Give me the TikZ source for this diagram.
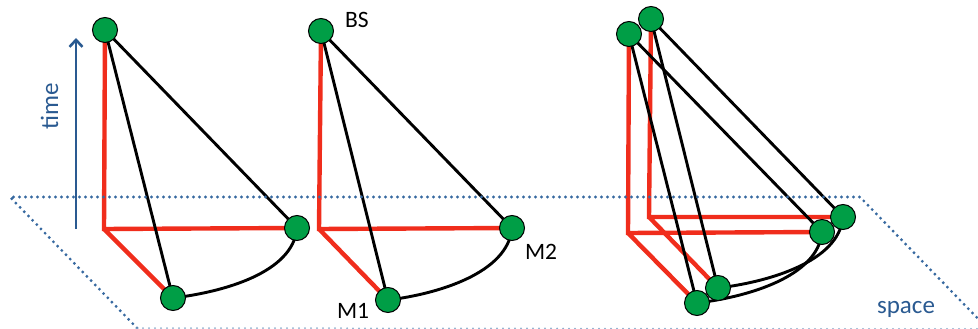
\documentclass[tikz,border=0pt]{standalone}
\usepackage{fontspec}
\setmainfont{Carlito}
\usetikzlibrary{arrows.meta,backgrounds}
\definecolor{linkred}{RGB}{240,45,28}
\definecolor{nodegreen}{RGB}{0,158,70}
\definecolor{axisblue}{RGB}{42,90,145}
\definecolor{planeblue}{RGB}{55,105,160}
\definecolor{planefaint}{RGB}{140,172,205}
\tikzset{
  station/.style={circle, draw=black, line width=1pt, fill=nodegreen, minimum size=25pt, inner sep=0pt},
  projection/.style={draw=linkred, line width=4.4pt, line join=miter},
  link/.style={draw=black, line width=2.9pt},
  planeedge/.style={draw=planeblue, line width=3.2pt, dash pattern=on 0pt off 6pt, line cap=round},
  lbl/.style={font=\fontsize{23.5}{28}\selectfont, text=black, inner sep=0pt, anchor=base},
  axislbl/.style={font=\fontsize{25}{30}\selectfont, text=axisblue, inner sep=0pt, anchor=base},
}
\begin{document}
\begin{tikzpicture}[x=1pt,y=-1pt]
\useasboundingbox (0,0) rectangle (978,329);

% ground plane (space)
\coordinate (pl1) at (10,197);
\coordinate (pl2) at (860,197);
\coordinate (pl3) at (988,329);
\coordinate (pl4) at (137,328);
\draw[planeedge] (pl4) -- (pl1) -- (pl2) -- (pl3);
\draw[planeedge, draw=planefaint, line width=2pt] (pl4) -- (pl3);

% time axis
\coordinate (t0) at (76,229);
\coordinate (t1) at (76,38);
\draw[axisblue, line width=2.8pt, -{Straight Barb[length=7pt,width=13pt,line width=2.6pt]}] (t0) -- (t1);
\node[axislbl, rotate=90] (timelbl) at (58,106) {time};
\node[axislbl] (spacelbl) at (906,313) {space};

% corners of the projections
\coordinate (c1) at (104,229);
\coordinate (c2) at (319,229);
\coordinate (c3b) at (649,217);
\coordinate (c3a) at (628,233);

% stations, panel 1
\node[station] (bs1) at (105,30) {};
\node[station] (mb1) at (297,228) {};
\node[station] (ma1) at (173,298) {};

% stations, panel 2
\node[station] (bs2) at (321,31) {};
\node[station] (mb2) at (512,228) {};
\node[station] (ma2) at (388,300) {};
\node[lbl] (bslbl) at (357,28) {BS};
\node[lbl] (m2lbl) at (541,259) {M2};
\node[lbl] (m1lbl) at (353,318) {M1};

% stations, panel 3 (rear set, then front set)
\node[station] (bs3b) at (651,19) {};
\node[station] (mb3b) at (843,217) {};
\node[station] (ma3b) at (718,288) {};
\node[station] (bs3a) at (629,34) {};
\node[station] (mb3a) at (822,232) {};
\node[station] (ma3a) at (697,303) {};

\begin{pgfonlayer}{background}
  % red projections onto the plane
  \draw[projection] (bs1.center) -- (c1) -- (mb1.center) (c1) -- (ma1.center);
  \draw[projection] (bs2.center) -- (c2) -- (mb2.center) (c2) -- (ma2.center);
  \draw[projection] (bs3b.center) -- (c3b) -- (mb3b.center) (c3b) -- (ma3b.center);
  \draw[projection] (bs3a.center) -- (c3a) -- (mb3a.center) (c3a) -- (ma3a.center);
  % links
  \draw[link] (bs1.center) -- (ma1.center) (bs1.center) -- (mb1.center);
  \draw[link] (ma1.center) .. controls +(50,-6) and +(-4,45) .. (mb1.center);
  \draw[link] (bs2.center) -- (ma2.center) (bs2.center) -- (mb2.center);
  \draw[link] (ma2.center) .. controls +(50,-6) and +(-4,45) .. (mb2.center);
  \draw[link] (bs3b.center) -- (ma3b.center) (bs3b.center) -- (mb3b.center);
  \draw[link] (ma3b.center) .. controls +(50,-6) and +(-4,45) .. (mb3b.center);
  \draw[link] (bs3a.center) -- (ma3a.center) (bs3a.center) -- (mb3a.center);
  \draw[link] (ma3a.center) .. controls +(50,-6) and +(-4,45) .. (mb3a.center);
\end{pgfonlayer}
\end{tikzpicture}
\end{document}
